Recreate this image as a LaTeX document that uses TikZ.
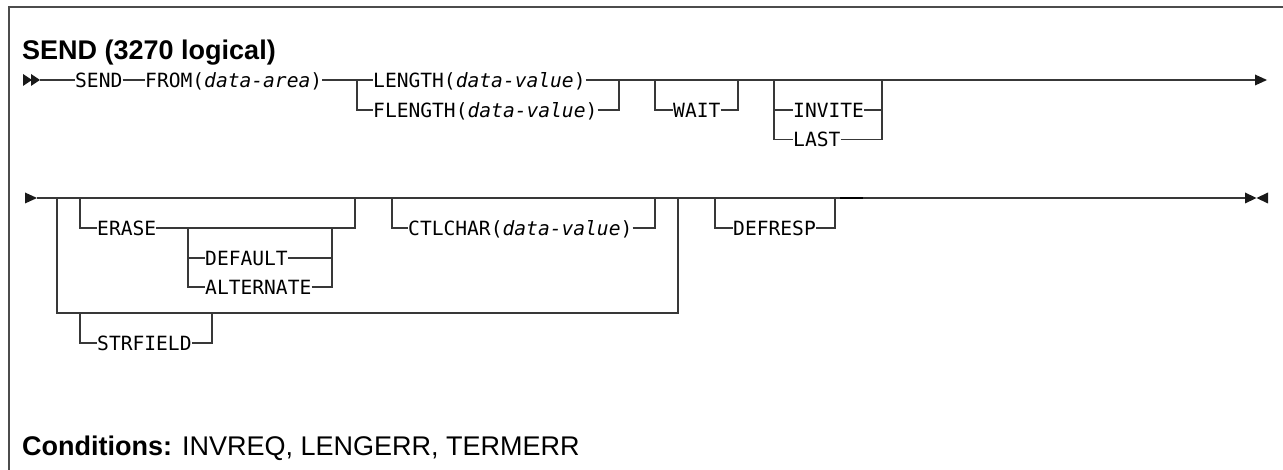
\documentclass[tikz,border=0pt]{standalone}
\usepackage{fontspec}
\setmainfont{Liberation Sans}
\setmonofont{DejaVu Sans Mono}

\tikzset{
  rail/.style={draw=black!78, line width=1.4pt},
  kw/.style={anchor=west, inner sep=0pt, text height=14.3pt, text depth=0pt,
    font=\ttfamily\fontsize{19.6}{22}\selectfont},
  head/.style={fill=black!90},
  heading/.style={anchor=base west, inner sep=0pt, font=\fontsize{27}{30}\selectfont},
}

\begin{document}
\begin{tikzpicture}[x=1pt,y=-1pt]
\useasboundingbox (0,0) rectangle (1283,470);
% frame
\draw[black!70, line width=1.2pt] (1283,7) -- (9,7) -- (9,470);
\node[heading] (title) at (22,60) {\bfseries SEND (3270 logical)};

% first line
\node[kw] (send)   at (75,80)    {SEND};
\node[kw] (from)   at (145,80)   {FROM(\textit{data-area})};
\node[kw] (len)    at (373,80)   {LENGTH(\textit{data-value})};
\node[kw] (flen)   at (373,110)  {FLENGTH(\textit{data-value})};
\node[kw] (wait)   at (673,110)  {WAIT};
\node[kw] (invite) at (793,110)  {INVITE};
\node[kw] (last)   at (793,139.5){LAST};
\coordinate (r1s) at (40,80);
\coordinate (l1)  at (357,80);
\coordinate (l2)  at (619,80);
\coordinate (w1)  at (655,80);
\coordinate (w2)  at (738,80);
\coordinate (i1)  at (774,80);
\coordinate (i2)  at (882,80);
\coordinate (r1e) at (1255,80);
\fill[head] (23,74) -- (32,80) -- (23,86) -- cycle;
\fill[head] (31,74) -- (40,80) -- (31,86) -- cycle;
\draw[rail] (r1s) -- (send);
\draw[rail] (send) -- (from);
\draw[rail] (from) -- (len);
\draw[rail] (len) -- (r1e);
\draw[rail] (l1) |- (flen);
\draw[rail] (flen) -| (l2);
\draw[rail] (w1) |- (wait);
\draw[rail] (wait) -| (w2);
\draw[rail] (i1) |- (invite);
\draw[rail] (invite) -- (invite -| i2);
\draw[rail] (i1) |- (last);
\draw[rail] (last) -| (i2);
\fill[head] (1255,74.5) -- (1267,80) -- (1255,85.5) -- cycle;

% second line
\node[kw] (erase)     at (97,228)  {ERASE};
\node[kw] (default)   at (205,258) {DEFAULT};
\node[kw] (alternate) at (205,287) {ALTERNATE};
\node[kw] (ctlchar)   at (408,228) {CTLCHAR(\textit{data-value})};
\node[kw] (strfield)  at (97,343)  {STRFIELD};
\node[kw] (defresp)   at (733,228) {DEFRESP};
\coordinate (r2s) at (37,198);
\coordinate (o1)  at (57,198);
\coordinate (e1)  at (80,198);
\coordinate (e2)  at (355,198);
\coordinate (a1)  at (188,228);
\coordinate (a2)  at (332,228);
\coordinate (c1)  at (392,198);
\coordinate (c2)  at (655,198);
\coordinate (o2)  at (678,198);
\coordinate (ob)  at (678,313);
\coordinate (s1)  at (80,313);
\coordinate (s2)  at (212,313);
\coordinate (d1)  at (715,198);
\coordinate (d2)  at (835,198);
\coordinate (k1)  at (840,198);
\coordinate (k2)  at (863,198);
\coordinate (r2e) at (1245,198);
\fill[head] (25,192.5) -- (37,198) -- (25,203.5) -- cycle;
\draw[rail] (r2s) -- (r2e);
\draw[rail] (e1) |- (erase);
\draw[rail] (erase) -| (e2);
\draw[rail] (a1) |- (default);
\draw[rail] (default) -| (a2);
\draw[rail] (a1) |- (alternate);
\draw[rail] (alternate) -| (a2);
\draw[rail] (c1) |- (ctlchar);
\draw[rail] (ctlchar) -| (c2);
\draw[rail] (o1) |- (ob) -- (o2);
\draw[rail] (s1) |- (strfield);
\draw[rail] (strfield) -| (s2);
\draw[rail] (d1) |- (defresp);
\draw[rail] (defresp) -| (d2);
\draw[black, line width=2pt] (k1) -- (k2);
\fill[head] (1245,192.5) -- (1256.5,198) -- (1245,203.5) -- cycle;
\fill[head] (1268,192.5) -- (1256.5,198) -- (1268,203.5) -- cycle;

\node[heading] (cond) at (22,455) {\textbf{Conditions:} INVREQ, LENGERR, TERMERR};
\end{tikzpicture}
\end{document}
